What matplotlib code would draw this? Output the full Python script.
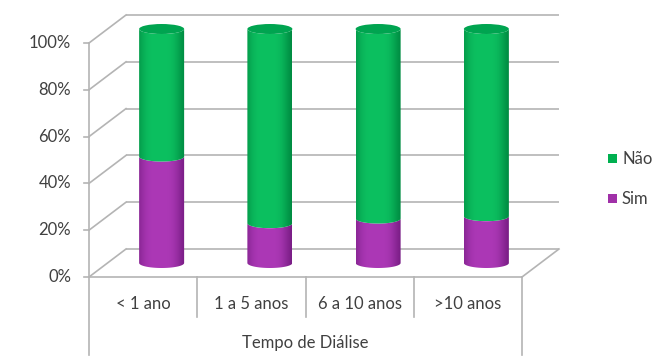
import numpy as np
import matplotlib
matplotlib.use('Agg')
import matplotlib.pyplot as plt
from matplotlib.patches import Ellipse, PathPatch, Rectangle
from matplotlib.path import Path

# ---------------- data ----------------
categories = ['< 1 ano', '1 a 5 anos', '6 a 10 anos', '>10 anos']
sim = [45.5, 17.0, 19.0, 20.0]
nao = [100 - s for s in sim]
series_names = ['Não', 'Sim']
yticks = [0, 20, 40, 60, 80, 100]
ytick_labels = ['0%', '20%', '40%', '60%', '80%', '100%']
axis_title = 'Tempo de Diálise'

# ---------------- style / layout ----------------
plt.rcParams['font.family'] = ['Lato', 'DejaVu Sans']
FS = 12
W, H = 657, 363
X0PX, CATW, Y0PX, PPP = 89.0, 108.25, 277.0, 2.34
DX = 37.0 / CATW          # depth offset (category units)
DY = 28.0 / PPP           # depth offset (percent units)
A = 22.5 / CATW           # cylinder half width
B = 5.0 / PPP             # ellipse half height
GRID = '#B4B4B4'
TXT = '#404040'
GREEN_EDGE, GREEN_MID, GREEN_TOP = np.array([0, 140, 66]) / 255, np.array([12, 192, 96]) / 255, '#00A450'
PURP_EDGE, PURP_MID = np.array([122, 30, 134]) / 255, np.array([172, 56, 182]) / 255
SIM_COL, NAO_COL = '#A030A8', '#00B050'

fig = plt.figure(figsize=(W / 100, H / 100), dpi=100)
ax = fig.add_axes([0, 0, 1, 1])
ax.set_axis_off()
xlim = (-X0PX / CATW, (W - X0PX) / CATW)
ylim = ((Y0PX - H) / PPP, Y0PX / PPP)

n = len(categories)
lw = 1.2

# walls and gridlines
for t, lab in zip(yticks, ytick_labels):
    ax.plot([DX, n + DX], [t + DY, t + DY], color=GRID, lw=lw, zorder=1, solid_capstyle='butt')
    ax.plot([0, DX], [t, t + DY], color=GRID, lw=lw, zorder=1)
    ax.plot([-5 / CATW, 0], [t, t], color=GRID, lw=lw, zorder=1)
    ax.text(-18 / CATW, t, lab, ha='right', va='center', fontsize=FS, color=TXT)
# floor front edge and right diagonal
ax.plot([0, n], [0, 0], color=GRID, lw=lw, zorder=1)
ax.plot([n, n + DX], [0, DY], color=GRID, lw=lw, zorder=1)
# vertical axis + category table
bottom_outer = (Y0PX - 355) / PPP
bottom_inner = (Y0PX - 317) / PPP
ax.plot([0, 0], [bottom_outer, 100], color=GRID, lw=lw, zorder=1)
ax.plot([n, n], [bottom_outer, 0], color=GRID, lw=lw, zorder=1)
for i in range(1, n):
    ax.plot([i, i], [bottom_inner, 0], color=GRID, lw=lw, zorder=1)
for i, c in enumerate(categories):
    ax.text(i + 0.5, (Y0PX - 304) / PPP, c, ha='center', va='center', fontsize=FS, color=TXT)
ax.text(n / 2, (Y0PX - 343) / PPP, axis_title, ha='center', va='center', fontsize=FS, color=TXT)


def gradient(edge, mid):
    s = np.linspace(0, 1, 64)
    w = np.exp(-((s - 0.45) / 0.47) ** 4)
    w = (w - w.min()) / (w.max() - w.min())
    col = edge[None, :] * (1 - w[:, None]) + mid[None, :] * w[:, None]
    return col[None, :, :]


def seg_path(xc, v0, v1):
    t0 = np.linspace(np.pi, 2 * np.pi, 40)
    t1 = t0[::-1]
    pts = [(xc - A, v1), (xc - A, v0)]
    pts += list(zip(xc + A * np.cos(t0), v0 + B * np.sin(t0)))
    pts += [(xc + A, v1)]
    pts += list(zip(xc + A * np.cos(t1), v1 + B * np.sin(t1)))
    pts += [(xc - A, v1)]
    return Path(pts, closed=True)


z = 3
for i in range(n):
    xc = i + 0.5 + DX / 2
    sh = DY / 2
    segs = [(0, sim[i], PURP_EDGE, PURP_MID), (sim[i], sim[i] + nao[i], GREEN_EDGE, GREEN_MID)]
    for v0, v1, ec, mc in segs:
        p = PathPatch(seg_path(xc, v0 + sh, v1 + sh), facecolor='none', edgecolor='none', zorder=z)
        ax.add_patch(p)
        im = ax.imshow(gradient(ec, mc), extent=[xc - A, xc + A, v0 + sh - B, v1 + sh + B],
                       aspect='auto', zorder=z, interpolation='bilinear')
        im.set_clip_path(p)
        z += 1
    top = sim[i] + nao[i] + sh
    ax.add_patch(Ellipse((xc, top), 2 * A, 2 * B, facecolor=GREEN_TOP, edgecolor='none', zorder=z))
    z += 1

# legend
leg_cols = [NAO_COL, SIM_COL]
leg_y = [159, 199]
for name, col, yp in zip(series_names, leg_cols, leg_y):
    ax.add_patch(Rectangle((608 / W, 1 - (yp + 4.5) / H), 9 / W, 9 / H, transform=ax.transAxes,
                           facecolor=col, edgecolor='none'))
    ax.text(622 / W, 1 - yp / H, name, transform=ax.transAxes, ha='left', va='center',
            fontsize=FS, color=TXT)

ax.set_xlim(*xlim)
ax.set_ylim(*ylim)
fig.savefig('out.png', dpi=100)
